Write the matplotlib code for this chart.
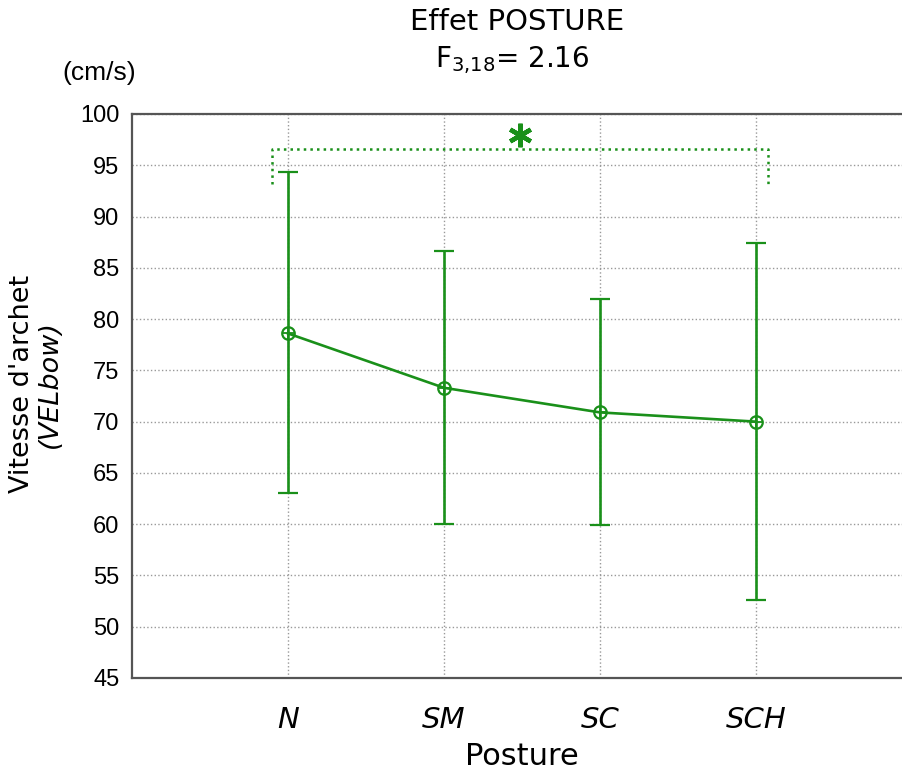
import numpy as np
import matplotlib.pyplot as plt

postures = ['N', 'SM', 'SC', 'SCH']
means = [78.6, 73.3, 70.9, 70.0]
upper = [94.3, 86.6, 82.0, 87.4]
lower = [63.0, 60.0, 59.9, 52.6]
yticks = [45, 50, 55, 60, 65, 70, 75, 80, 85, 90, 95, 100]

# significance bracket (N vs SCH)
sig_x = [0.9, 4.08]
sig_top = 96.6
sig_bottom = 93.2
star_y = 98.0

green = '#1a901a'
grey = '#555555'

plt.rcParams['font.family'] = 'DejaVu Sans'

fig = plt.figure(figsize=(9.03, 7.73), dpi=100)
ax = fig.add_axes([132/903, 95/773, 780/903, 564/773])

x = np.arange(1, len(postures) + 1)
means = np.array(means)
yerr = [means - np.array(lower), np.array(upper) - means]

ax.errorbar(x, means, yerr=yerr, color=green, lw=1.9, elinewidth=1.9,
            capsize=7, capthick=1.9, marker='o', ms=9, mfc='none',
            mec=green, mew=1.6, zorder=3)
ax.plot(x, means, ls='none', marker='+', ms=9, mew=1.3, color=green, zorder=4)

# bracket + asterisk
ax.plot([sig_x[0], sig_x[0], sig_x[1], sig_x[1]],
        [sig_bottom, sig_top, sig_top, sig_bottom],
        ls=':', color=green, lw=1.8, zorder=3)
ax.plot([np.mean(sig_x)], [star_y], ls='none', marker=(6, 2, 0), ms=17,
        mew=3.2, color=green, zorder=4)

ax.set_xlim(0, 5)
ax.set_ylim(45, 100)
ax.set_xticks(x)
ax.set_xticklabels(postures, fontsize=21, style='italic')
ax.set_yticks(yticks)
ax.set_yticklabels([str(v) for v in yticks], fontsize=17,
                   family='Liberation Sans')
ax.tick_params(axis='both', length=0)
ax.tick_params(axis='x', pad=20)
ax.tick_params(axis='y', pad=9)

ax.grid(True, ls=':', color='#999999', lw=1)
ax.set_axisbelow(True)
for side in ['left', 'top', 'bottom']:
    ax.spines[side].set_color(grey)
    ax.spines[side].set_linewidth(1.6)
ax.spines['right'].set_visible(False)

ax.set_xlabel('Posture', fontsize=22, labelpad=6)

fig.text(22/903, 1 - 384/773, "Vitesse d'archet", rotation=90, fontsize=19.5,
         ha='center', va='center')
fig.text(50/903, 1 - 384/773, "(VELbow)", rotation=90, fontsize=19.5,
         style='italic', ha='center', va='center')

fig.text(517/903, 1 - 22/773, 'Effet POSTURE', fontsize=21,
         ha='center', va='center')
fig.text(512/903, 1 - 60/773, r'F$_{3{,}18}$= 2.16', fontsize=20,
         ha='center', va='center')
fig.text(99/903, 1 - 73/773, '(cm/s)', fontsize=19,
         family='Liberation Sans', ha='center', va='center')

fig.savefig('out.png', dpi=100)
